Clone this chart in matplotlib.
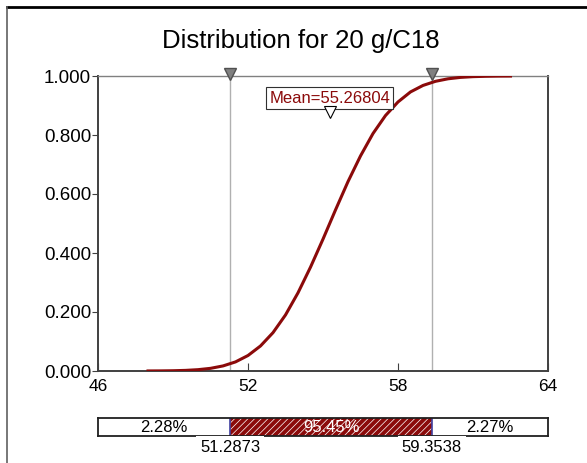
import matplotlib
matplotlib.use('Agg')
import matplotlib.pyplot as plt
from matplotlib.lines import Line2D

plt.rcParams['font.family'] = ['Liberation Sans', 'DejaVu Sans']
plt.rcParams['hatch.linewidth'] = 0.5

# cumulative curve
xs = [48.0, 48.5, 49.0, 49.5, 50.0, 50.5, 51.0, 51.5, 52.0, 52.5, 53.0, 53.5,
      54.0, 54.5, 55.0, 55.5, 56.0, 56.5, 57.0, 57.5, 58.0, 58.5, 59.0, 59.5,
      60.0, 60.5, 61.0, 61.5, 62.0, 62.5]
ys = [0.0002, 0.0004, 0.0009, 0.0021, 0.0045, 0.0090, 0.0172, 0.0308, 0.0525,
      0.0849, 0.130, 0.190, 0.265, 0.352, 0.447, 0.546, 0.642, 0.729, 0.805,
      0.866, 0.912, 0.946, 0.968, 0.982, 0.9905, 0.9953, 0.9978, 0.9990,
      0.9996, 0.9998]

mean = 55.26804
lo, hi = 51.2873, 59.3538
pct_labels = ['2.28%', '95.45%', '2.27%']
xticks = [46, 52, 58, 64]
yticks = [0.0, 0.2, 0.4, 0.6, 0.8, 1.0]

red = '#8b0a0a'
dark = '#404040'

fig = plt.figure(figsize=(5.87, 4.63), dpi=100)

ax = fig.add_axes([98 / 587, 92 / 463, 450 / 587, 295 / 463])
ax.plot(xs, ys, color=red, lw=2.2, zorder=3)
ax.axvline(lo, color='#b0b0b0', lw=1, zorder=1)
ax.axvline(hi, color='#b0b0b0', lw=1, zorder=1)
ax.plot([lo, hi], [1.006, 1.006], 'v', color='#808080', mec='#505050', ms=8,
        clip_on=False, zorder=5)

ax.text(mean, 0.925, 'Mean=55.26804', color=red, fontsize=12, ha='center',
        va='center', zorder=6,
        bbox=dict(boxstyle='square,pad=0.2', fc='white', ec='#303030', lw=0.8))
ax.plot([mean], [0.878], 'v', color='white', mec='black', mew=0.8, ms=9, zorder=7)

ax.set_xlim(46, 64)
ax.set_ylim(0, 1)
ax.set_xticks(xticks)
ax.set_yticks(yticks)
ax.set_yticklabels(['%.3f' % v for v in yticks])
ax.tick_params(axis='x', direction='in', length=6, color=dark, labelsize=12.5, pad=6)
ax.tick_params(axis='y', direction='out', length=4, color=dark, labelsize=13.5, pad=1)
for s in ['left', 'bottom', 'right']:
    ax.spines[s].set_color(dark)
    ax.spines[s].set_linewidth(1.4)
ax.spines['top'].set_color('#808080')
ax.spines['top'].set_linewidth(1)

fig.text(301 / 587, 1 - 41 / 463, 'Distribution for 20 g/C18', fontsize=18.5,
         ha='center', va='center')

# lower bar with the interval
bx = fig.add_axes([98 / 587, 27 / 463, 450 / 587, 18 / 463])
bounds = [46, lo, hi, 64]
lefts = bounds[:-1]
widths = [bounds[i + 1] - bounds[i] for i in range(3)]
bx.barh(0.5, widths[0], left=lefts[0], height=1, color='white', lw=0)
bx.barh(0.5, widths[1], left=lefts[1], height=1, color=red, edgecolor='white',
        hatch='/////', lw=0)
bx.barh(0.5, widths[2], left=lefts[2], height=1, color='white', lw=0)
for b in [lo, hi]:
    bx.axvline(b, color='#4040a0', lw=1.2)
for i, lab in enumerate(pct_labels):
    bx.text(lefts[i] + widths[i] / 2, 0.5, lab, ha='center', va='center',
            fontsize=12, color='white' if i == 1 else 'black')
for b in [lo, hi]:
    bx.text(b, -0.62, '%.4f' % b, ha='center', va='center', fontsize=12,
            zorder=6, clip_on=False,
            bbox=dict(boxstyle='square,pad=0.22', fc='white', ec='none'))
bx.set_xlim(46, 64)
bx.set_ylim(0, 1)
bx.set_xticks([])
bx.set_yticks([])
for s in bx.spines.values():
    s.set_color('#202020')
    s.set_linewidth(1.3)

# outer frame
fig.add_artist(Line2D([7 / 587, 1], [1 - 7 / 463, 1 - 7 / 463], color='black',
                      lw=2, transform=fig.transFigure))
fig.add_artist(Line2D([7 / 587, 7 / 587], [1 - 7 / 463, 0], color='#606060',
                      lw=1.2, transform=fig.transFigure))

fig.savefig('out.png', dpi=100)
